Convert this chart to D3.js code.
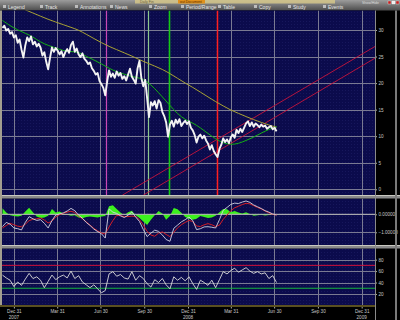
<!DOCTYPE html>
<html><head><meta charset="utf-8">
<script src="https://cdn.jsdelivr.net/npm/d3@7"></script>
<style>
html,body{margin:0;padding:0;background:#000;}
svg{display:block;font-family:"Liberation Sans",Arial,sans-serif;}
</style></head><body>
<svg id="chart" width="400" height="320"></svg>
<script>
// data
const priceStart="2007-12-07", priceStep=4;
const price=[30.4,30.8,29.9,30.2,29.3,29.6,28.6,29.0,27.6,28.2,
  26.3,24.8,27.1,28.6,27.9,28.8,27.3,27.8,26.9,27.4,
  26.7,25.2,25.8,24.0,22.6,24.8,26.7,25.9,26.6,26.1,
  25.4,26.0,24.9,25.8,26.4,25.7,27.2,27.8,25.9,26.5,
  25.4,24.9,25.6,24.6,24.2,23.6,23.9,22.8,22.3,21.6,
  21.9,20.4,19.8,19.1,17.7,20.3,22.4,21.2,21.8,21.0,
  22.2,21.4,21.9,20.8,21.3,20.5,21.6,22.7,21.2,20.6,
  19.9,22.8,24.2,20.9,19.4,20.6,17.2,13.6,16.4,15.8,
  16.6,15.2,16.8,16.3,14.6,13.8,12.6,9.9,12.2,12.9,
  11.8,13.1,12.4,13.2,11.9,12.5,12.9,12.3,12.8,11.6,
  11.1,10.2,8.8,9.9,10.3,9.6,10.1,9.2,8.6,7.5,
  8.3,7.2,6.6,6.1,7.6,8.4,9.6,8.9,9.4,8.7,
  9.8,10.3,9.7,11.2,10.6,11.4,10.8,11.6,12.4,12.8,
  11.9,12.6,11.8,12.4,12.1,11.7,12.2,11.8,12.0,11.4,
  11.7,11.9,11.3,11.6,10.9];
const maStep=16;
const maShort=[31.8,30.8,30.0,29.4,28.7,27.7,27.1,26.6,26.1,25.9,
  25.9,25.0,24.4,23.6,22.8,22.1,21.7,21.2,21.0,20.3,
  19.0,17.4,15.8,14.2,13.1,12.5,11.6,10.5,9.5,8.7,
  8.4,8.6,9.2,9.8,10.6,11.3,11.8];
const maLong=[35.5,35.0,34.4,33.8,33.2,32.6,32.0,31.5,31.0,30.5,
  30.0,29.2,28.4,27.6,26.9,26.3,25.7,25.1,24.4,23.8,
  23.2,22.6,21.8,20.9,20.0,19.2,18.3,17.4,16.5,15.7,
  14.9,14.3,13.7,13.1,12.6,12.1,11.7];
const indStep=8;
const macd=[-0.68,-0.45,-0.55,-0.76,-0.80,-0.87,-0.45,-0.13,-0.25,-0.34,
  -0.30,-0.50,-0.76,-0.35,-0.04,0.02,0.08,0.18,0.33,0.20,
  -0.05,-0.22,-0.45,-0.62,-0.82,-0.96,-1.08,-1.32,0.30,0.12,
  0.05,-0.08,-0.18,-0.05,0.13,-0.15,-0.40,-0.85,-1.24,-1.05,
  -0.88,-0.95,-1.15,-1.40,-1.50,-0.78,-0.60,-0.42,-0.30,-0.15,
  -0.35,-0.85,-0.80,-0.70,-0.69,-0.72,-0.76,-0.30,0.22,0.38,
  0.55,0.62,0.60,0.68,0.74,0.66,0.52,0.42,0.32,0.20,
  0.12,0.02,-0.04];
const signal=[-0.76,-0.62,-0.50,-0.58,-0.66,-0.69,-0.55,-0.35,-0.28,-0.25,
  -0.20,-0.32,-0.48,-0.38,-0.15,-0.02,0.06,0.12,0.17,0.10,
  -0.10,-0.25,-0.42,-0.60,-0.78,-0.92,-1.04,-1.10,-0.70,-0.35,
  -0.06,-0.08,-0.12,-0.13,-0.10,-0.12,-0.30,-0.60,-0.95,-1.15,
  -1.22,-1.05,-0.98,-1.12,-1.24,-1.00,-0.75,-0.58,-0.45,-0.34,
  -0.40,-0.65,-0.68,-0.58,-0.52,-0.58,-0.68,-0.60,-0.28,-0.04,
  0.20,0.36,0.45,0.54,0.61,0.58,0.48,0.38,0.30,0.18,
  0.08,0.00,-0.04];
const hist=[0.33,0.10,-0.05,-0.10,-0.12,-0.08,0.15,0.37,0.12,-0.12,
  -0.20,-0.18,-0.08,0.29,0.10,0.15,0.05,-0.02,-0.08,-0.05,
  -0.18,-0.22,-0.15,-0.12,-0.15,-0.18,-0.12,-0.10,0.45,0.50,
  0.30,0.10,-0.05,0.12,0.20,-0.05,-0.20,-0.40,-0.60,-0.30,
  -0.05,0.18,0.05,-0.30,-0.10,0.35,0.28,0.08,-0.15,-0.25,
  -0.30,-0.25,-0.10,-0.15,-0.20,-0.18,-0.08,0.12,0.30,0.28,
  0.12,0.18,0.10,0.05,0.12,0.02,-0.08,-0.05,-0.02,-0.06,
  -0.04,-0.03,-0.02];
const rsi=[53,48,44,33,41,35,46,56,47,50,
  44,31,42,53,45,50,53,48,60,47,
  52,41,36,31,36,29,22,26,55,59,
  51,54,48,46,59,44,52,47,38,32,
  45,40,47,36,29,50,44,49,43,50,
  38,28,44,40,35,44,31,45,59,55,
  61,65,58,62,66,60,56,59,55,57,
  47,52,40];
const eventDates=["2008-07-12","2008-10-08","2008-11-21","2009-03-02"];
const channelUpper=[["2008-08-15",-1.1],["2010-01-28",26.9]];
const channelLower=[["2008-09-28",-1.1],["2010-01-28",24.7]];
const priceTicks=[0,5,10,15,20,25,30];
const macdTicks=[0,-1];
const rsiTicks=[20,40,60,80];
const rsiBands=[70,30];
const dateTicks=["2007-12-31","2008-03-31","2008-06-30","2008-09-30","2008-12-31",
  "2009-03-31","2009-06-30","2009-09-30","2009-12-31"];
const toolbarItems=["Legend","Track","Annotations","News","Zoom","Period/Range","Table","Copy","Study","Events"];

(function(){
  const svg=d3.select("#chart");
  const parse=d3.timeParse("%Y-%m-%d");
  const navy="#0b0b4c", grid="#7a7a92", axisTxt="#c8c8c8";
  const eventColors=["#c848b4","#8cc88c","#14c814","#ff2020"];
  const P={main:[10.5,195],macd:[198.5,245],rsi:[248.5,305]};
  const L=2,R=375;

  const x=d3.scaleTime().domain([new Date(2007,11,6),new Date(2010,0,28)]).range([L,R]);
  const yP=d3.scaleLinear().domain([0,30]).range([189.3,30]);
  const yM=d3.scaleLinear().domain([0,-1]).range([214.3,232.3]);
  const yR=d3.scaleLinear().domain([0,100]).range([305.4,248.2]);

  const t0=parse(priceStart);
  const pData=price.map((v,i)=>({d:d3.timeDay.offset(t0,i*priceStep),v}));
  const ser=(arr,step)=>arr.map((v,i)=>({d:d3.timeDay.offset(t0,i*step),v}));
  const ticks=dateTicks.map(parse);

  const defs=svg.append("defs");
  const pat=defs.append("pattern").attr("id","dots").attr("width",3).attr("height",3)
    .attr("patternUnits","userSpaceOnUse");
  pat.append("rect").attr("width",3).attr("height",3).attr("fill",navy);
  pat.append("rect").attr("width",1).attr("height",1).attr("fill","#17175c");
  Object.entries(P).forEach(([k,[t,b]])=>{
    defs.append("clipPath").attr("id","clip-"+k).append("rect")
      .attr("x",L).attr("y",t).attr("width",R-L).attr("height",b-t);
  });

  svg.append("rect").attr("width",400).attr("height",320).attr("fill","#000");

  // toolbar
  const tg=defs.append("linearGradient").attr("id","tb").attr("x1",0).attr("x2",0).attr("y1",0).attr("y2",1);
  tg.append("stop").attr("offset",0).attr("stop-color","#9c9c9c");
  tg.append("stop").attr("offset",1).attr("stop-color","#4c4c4c");
  svg.append("rect").attr("width",400).attr("height",10.5).attr("fill","url(#tb)");
  svg.append("rect").attr("x",135).attr("width",200).attr("height",3.5).attr("fill","#d8c98a").attr("opacity",.8);
  svg.append("rect").attr("x",178).attr("width",27).attr("height",3.5).attr("fill","#e0901c");
  svg.append("text").attr("x",140).attr("y",3).attr("font-size",3.5).attr("fill","#6a6040").text("Daily Fin");
  svg.append("text").attr("x",180).attr("y",3).attr("font-size",3.5).attr("fill","#5a3000").text("out Document");
  const tbX=[3,40,75,110,149,181,218,254,288,323];
  toolbarItems.forEach((s,i)=>{
    svg.append("rect").attr("x",tbX[i]).attr("y",5).attr("width",3).attr("height",3).attr("fill","#e0e0e0").attr("opacity",.7);
    svg.append("text").attr("x",tbX[i]+5).attr("y",8.6).attr("font-size",5).attr("fill","#e8e8e8").text(s);
  });
  svg.append("text").attr("x",362).attr("y",4).attr("font-size",3.5).attr("fill","#ddd").text("Show/Hide");
  [388,392,396].forEach((xx,i)=>svg.append("rect").attr("x",xx).attr("y",1).attr("width",3).attr("height",3)
    .attr("fill",i==1?"#eee":"#c02020").attr("stroke","#fff").attr("stroke-width",.3));

  // panel backgrounds, grids
  function panel(k,yScale,vals,labelFmt){
    const [t,b]=P[k];
    svg.append("rect").attr("x",L).attr("y",t).attr("width",R-L).attr("height",b-t).attr("fill","url(#dots)");
    const g=svg.append("g").attr("clip-path",`url(#clip-${k})`);
    g.selectAll(".vg").data(ticks).join("line")
      .attr("x1",d=>Math.round(x(d))+.5).attr("x2",d=>Math.round(x(d))+.5)
      .attr("y1",t).attr("y2",b).attr("stroke",grid).attr("stroke-width",1);
    g.selectAll(".hg").data(vals).join("line")
      .attr("x1",L).attr("x2",R)
      .attr("y1",d=>Math.round(yScale(d))+.5).attr("y2",d=>Math.round(yScale(d))+.5)
      .attr("stroke",grid).attr("stroke-width",1);
    svg.append("g").attr("transform",`translate(${R},0)`)
      .call(d3.axisRight(yScale).tickValues(vals).tickFormat(labelFmt).tickSize(2).tickPadding(1.5))
      .call(s=>s.select(".domain").remove())
      .call(s=>s.selectAll("line").attr("stroke","#aaa"))
      .call(s=>s.selectAll("text").attr("font-size",4.6).attr("fill",axisTxt).attr("font-family","Liberation Sans,Arial"));
    return g;
  }
  const gMain=panel("main",yP,priceTicks,d3.format("d"));
  const gMacd=panel("macd",yM,macdTicks,d3.format(".5f"));
  const gRsi=panel("rsi",yR,rsiTicks,d3.format("d"));

  // main: event lines
  gMain.selectAll(".ev").data(eventDates.map(parse)).join("line")
    .attr("x1",d=>Math.round(x(d))+.5).attr("x2",d=>Math.round(x(d))+.5)
    .attr("y1",P.main[0]).attr("y2",P.main[1])
    .attr("stroke",(d,i)=>eventColors[i]).attr("stroke-width",(d,i)=>i==2?1.6:i==3?1.5:1.2);

  // channel
  [channelUpper,channelLower].forEach(c=>{
    gMain.append("line")
      .attr("x1",x(parse(c[0][0]))).attr("y1",yP(c[0][1]))
      .attr("x2",x(parse(c[1][0]))).attr("y2",yP(c[1][1]))
      .attr("stroke","#c8143c").attr("stroke-width",.9);
  });

  const line=(ys)=>d3.line().x(d=>x(d.d)).y(d=>ys(d.v));
  gMain.append("path").datum(ser(maLong,maStep))
    .attr("d",line(yP).curve(d3.curveBasis)).attr("fill","none")
    .attr("stroke","#a8a234").attr("stroke-width",1);
  gMain.append("path").datum(ser(maShort,maStep))
    .attr("d",line(yP).curve(d3.curveBasis)).attr("fill","none")
    .attr("stroke","#14b014").attr("stroke-width",1);
  gMain.append("path").datum(pData)
    .attr("d",line(yP)).attr("fill","none")
    .attr("stroke","#f2f2f2").attr("stroke-width",1.9).attr("stroke-linejoin","round");

  // macd
  const hData=ser(hist,indStep);
  gMacd.append("path").datum(hData)
    .attr("d",d3.area().x(d=>x(d.d)).y0(yM(0)).y1(d=>yM(d.v)))
    .attr("fill","#3cf01e");
  gMacd.append("line").attr("x1",L).attr("x2",R).attr("y1",yM(0)).attr("y2",yM(0))
    .attr("stroke","#b4b4b4").attr("stroke-width",1);
  gMacd.append("path").datum(ser(signal,indStep))
    .attr("d",line(yM)).attr("fill","none").attr("stroke","#d41e28").attr("stroke-width",1);
  gMacd.append("path").datum(ser(macd,indStep))
    .attr("d",line(yM)).attr("fill","none").attr("stroke","#d4d4e4").attr("stroke-width",.9);

  // rsi
  gRsi.selectAll(".band").data(rsiBands).join("line")
    .attr("x1",L).attr("x2",R).attr("y1",d=>yR(d)).attr("y2",d=>yR(d))
    .attr("stroke",(d,i)=>i==0?"#d0103a":"#14b43c").attr("stroke-width",1);
  gRsi.append("path").datum(ser(rsi,indStep))
    .attr("d",line(yR)).attr("fill","none").attr("stroke","#dcdcdc").attr("stroke-width",.9);

  // separators & frames
  [[195,198.5],[245,248.5]].forEach(([a,b])=>{
    svg.append("rect").attr("x",0).attr("y",a).attr("width",400).attr("height",b-a).attr("fill","#8a8a8a");
    svg.append("line").attr("x1",0).attr("x2",400).attr("y1",a+.5).attr("y2",a+.5).attr("stroke","#c8c8c0");
  });
  svg.append("rect").attr("x",0).attr("y",10.5).attr("width",L).attr("height",295).attr("fill","#a39e90");
  svg.append("line").attr("x1",R+.5).attr("x2",R+.5).attr("y1",10.5).attr("y2",320).attr("stroke","#8a8a8a");
  svg.append("rect").attr("x",395).attr("y",10.5).attr("width",2).attr("height",310).attr("fill","#7a7a7a");

  // date strip
  svg.append("rect").attr("x",0).attr("y",305).attr("width",R).attr("height",15).attr("fill","#000");
  svg.append("line").attr("x1",0).attr("x2",R).attr("y1",306).attr("y2",306).attr("stroke","#b4a040").attr("stroke-width",1.2);
  svg.append("g").attr("transform","translate(0,307)")
    .call(d3.axisBottom(x).tickValues(ticks).tickFormat(d3.timeFormat("%b %d")).tickSize(1.5).tickPadding(1))
    .call(s=>s.select(".domain").remove())
    .call(s=>s.selectAll("line").attr("stroke","#aaa"))
    .call(s=>s.selectAll("text").attr("font-size",4.6).attr("fill",axisTxt).attr("font-family","Liberation Sans,Arial"));
  svg.selectAll(".yr").data(ticks.filter(d=>d.getMonth()==11)).join("text")
    .attr("x",d=>x(d)).attr("y",318.5).attr("text-anchor","middle")
    .attr("font-size",4.6).attr("fill",axisTxt).text(d3.timeFormat("%Y"));
})();
</script>
</body></html>
